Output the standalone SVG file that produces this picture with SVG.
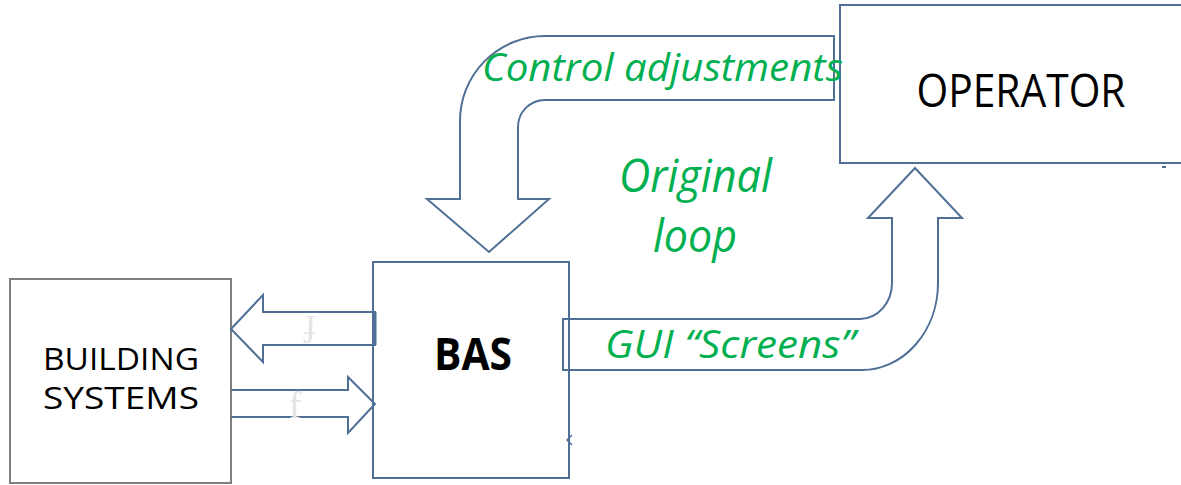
<svg xmlns="http://www.w3.org/2000/svg" width="1181" height="485" viewBox="0 0 1181 485">
  <style>
    .box { fill: #ffffff; stroke: #4F6F96; stroke-width: 2; }
    .gbox { fill: #ffffff; stroke: #7F7F7F; stroke-width: 2; }
    .arrow { fill: none; stroke: #4F6F96; stroke-width: 2; stroke-linejoin: miter; }
    .lbl { font-family: "Open Sans", "Liberation Sans", sans-serif; fill: #000000; }
    .green { font-family: "Open Sans", "Liberation Sans", sans-serif; font-style: italic; fill: #00B050; }
    .faint { font-family: "Liberation Serif", serif; fill: #E4E4E4; font-size: 38px; }
  </style>
  <rect width="1181" height="485" fill="#ffffff"/>

  <g id="building-systems">
    <rect class="gbox" x="10" y="279" width="221" height="204"/>
    <text class="lbl" x="121" y="370" font-size="31" text-anchor="middle" textLength="156" lengthAdjust="spacingAndGlyphs">BUILDING</text>
    <text class="lbl" x="121" y="409" font-size="31" text-anchor="middle" textLength="156" lengthAdjust="spacingAndGlyphs">SYSTEMS</text>
  </g>

  <g id="bas">
    <rect class="box" x="373" y="262" width="196" height="216"/>
    <text class="lbl" x="473" y="370" font-size="45" font-weight="bold" text-anchor="middle" textLength="78" lengthAdjust="spacingAndGlyphs">BAS</text>
  </g>

  <g id="operator">
    <rect class="box" x="840" y="5" width="345" height="158"/>
    <text class="lbl" x="1021" y="107" font-size="46" text-anchor="middle" textLength="209" lengthAdjust="spacingAndGlyphs">OPERATOR</text>
  </g>

  <g id="connectors">
    <path id="control-arrow" class="arrow" d="M 834 36 L 545 36 A 85 85 0 0 0 460 121 L 460 199 L 427 199 L 489 252 L 549 199 L 518 199 L 518 127 A 27 27 0 0 1 545 100 L 834 100 Z"/>
    <path id="gui-arrow" class="arrow" d="M 563 319 L 860 319 A 32 36 0 0 0 892 283 L 892 218 L 868 218 L 915 168 L 962 218 L 938 218 L 938 283 A 76 87 0 0 1 862 370 L 563 370 Z"/>
    <path id="bas-to-building" class="arrow" d="M 231 329 L 263 295 L 263 312 L 375 312 L 375 345 L 263 345 L 263 362 Z"/>
    <line x1="375" y1="312" x2="375" y2="345" stroke="#4F6F96" stroke-width="3"/>
    <path id="building-to-bas" class="arrow" d="M 231 390 L 348 390 L 348 377 L 375 404 L 348 433 L 348 417 L 231 417"/>
    <path d="M 572 435 L 567 440 L 572 445" fill="none" stroke="#4F6F96" stroke-width="1.5"/>
    <path d="M 1162 167 L 1166 167" fill="none" stroke="#4F6F96" stroke-width="2"/>
  </g>

  <g id="labels">
    <text class="green" x="482" y="81" font-size="39" textLength="361" lengthAdjust="spacingAndGlyphs">Control adjustments</text>
    <text class="green" x="619" y="192" font-size="46" textLength="153" lengthAdjust="spacingAndGlyphs">Original</text>
    <text class="green" x="653" y="252" font-size="46" textLength="84" lengthAdjust="spacingAndGlyphs">loop</text>
    <text class="green" x="605" y="358" font-size="39" textLength="250" lengthAdjust="spacingAndGlyphs">GUI “Screens”</text>
    <text class="faint" x="0" y="0" transform="translate(310 316) rotate(180)" text-anchor="middle">f</text>
    <text class="faint" x="295" y="418" text-anchor="middle">f</text>
  </g>
</svg>
